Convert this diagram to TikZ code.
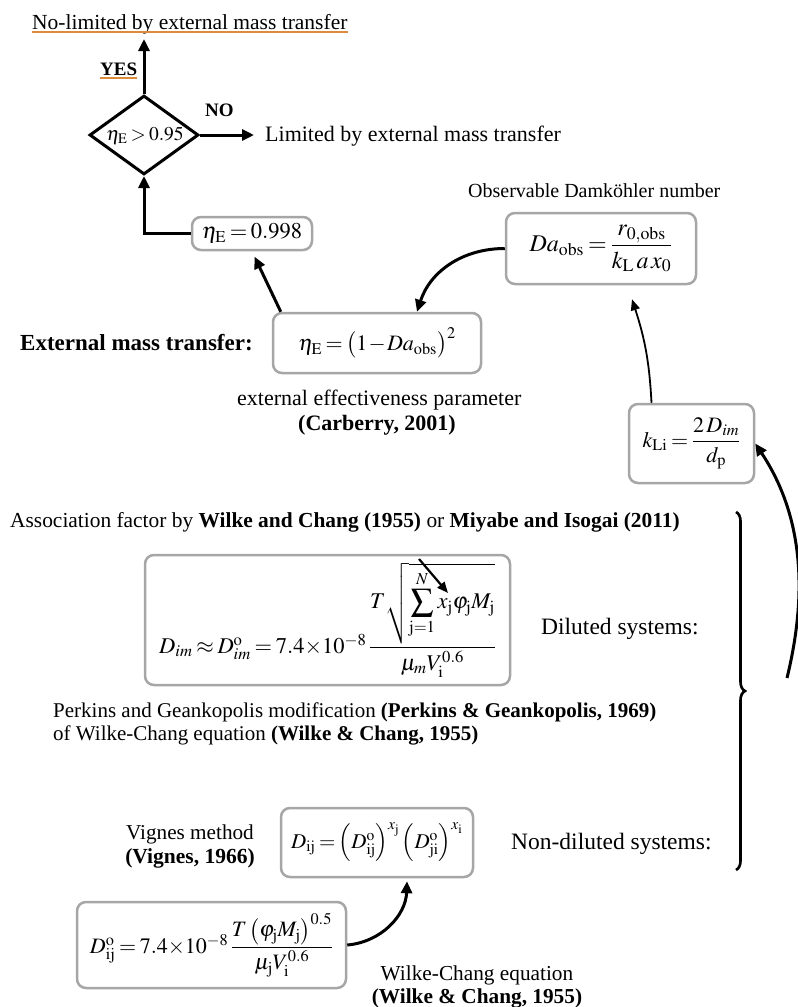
\documentclass[tikz,border=0pt]{standalone}
\usepackage{amsmath}
\usepackage{mathptmx}
\usepackage{fontspec}
\setmainfont{Liberation Serif}
\usetikzlibrary{arrows.meta,shapes.geometric,decorations.pathreplacing}
\definecolor{boxgray}{RGB}{166,166,166}
\definecolor{ulorange}{RGB}{222,138,60}
\newcommand\fsz[1]{\fontsize{#1}{#1}\selectfont}
\newcommand\eqsp{\thickmuskip=3mu plus 1mu\relax\medmuskip=2mu plus 1mu\relax\thinmuskip=2mu\relax}
\newcommand\eqspt{\thickmuskip=3mu plus 1mu\relax\medmuskip=1mu\relax\thinmuskip=2mu\relax}
\tikzset{
  txt/.style={inner sep=0pt, anchor=base west},
  ctxt/.style={inner sep=0pt, anchor=base},
  eqbox/.style={draw=boxgray, line width=2.5pt, rounded corners=9pt, inner sep=0pt},
  thickarrow/.style={line width=3pt, -{Triangle[length=12pt,width=11pt]}},
  thinarrow/.style={line width=1.8pt, -{Triangle[length=11pt,width=9pt]}},
  ul/.style={draw=ulorange, line width=1.6pt},
}
\begin{document}
\begin{tikzpicture}[x=1pt,y=1pt]
\useasboundingbox (0,0) rectangle (798,-1007);
% top decision
\node[txt, font=\fsz{21.5}] (title) at (32,-29) {No-limited by external mass transfer};
\draw[ul] (32,-32) -- (348,-32);
\node[txt, font=\fsz{19}\bfseries] (yes) at (100,-75) {YES};
\draw[ul] (100,-78) -- (137,-78);
\node[diamond, draw, line width=3pt, minimum width=109pt, minimum height=79pt, inner sep=0pt] (dia) at (144,-135) {};
\node[inner sep=0pt, font=\fsz{19.5}\eqspt] (dtext) at (145,-136) {$\eta_{\mathrm{E}} > 0.95$};
\node[txt, font=\fsz{19}\bfseries] (no) at (205,-116) {NO};
\node[txt, font=\fsz{22}] (lim) at (265,-141) {Limited by external mass transfer};
\coordinate (ytop) at (144,-39);
\coordinate (nend) at (254,-135);
\draw[thickarrow] (dia.north) -- (ytop);
\draw[thickarrow] (dia.east) -- (nend);
% eta box
\node[eqbox, font=\fsz{22.5}\eqsp, minimum width=120pt, minimum height=33pt] (b998) at (252,-233.5) {$\eta_{\mathrm{E}} = 0.998$};
\draw[thickarrow] (b998.west) -| (dia.south);
% Damkohler
\node[txt, font=\fsz{20}] (obs) at (468,-197) {Observable Damköhler number};
\node[eqbox, font=\fsz{24}\eqsp, minimum width=190pt, minimum height=71pt] (bDa) at (601,-248.5) {$Da_{\mathrm{obs}} = \dfrac{r_{0,\mathrm{obs}}}{k_{\mathrm{L}}\,a\,x_0}$};
% external mass transfer
\node[txt, font=\fsz{23}\bfseries] (ext) at (20,-350) {External mass transfer:};
\node[eqbox, font=\fsz{22}\eqspt, minimum width=208pt, minimum height=60pt] (bEta) at (377,-343) {$\eta_{\mathrm{E}} = \bigl(1 - Da_{\mathrm{obs}}\bigr)^{2}$};
\node[txt, font=\fsz{22}] (eff) at (237,-405) {external effectiveness parameter};
\node[txt, font=\fsz{22}\bfseries] (carb) at (298,-430) {(Carberry, 2001)};
\draw[thickarrow, shorten >=6pt] ([xshift=9pt]bEta.north west) -- (b998.south);
\draw[thickarrow] (bDa.west) to[out=180, in=72] ([xshift=40pt]bEta.north);
% kLi
\node[eqbox, font=\fsz{22}\eqsp, minimum width=125pt, minimum height=79pt] (bkLi) at (691.5,-443.5) {$k_{\mathrm{Li}} = \dfrac{2\,D_{im}}{d_{\mathrm{p}}}$};
\draw[thinarrow] ([xshift=-40pt]bkLi.north) to[out=93, in=-72] ([xshift=31pt,yshift=-14pt]bDa.south);
\coordinate (bigstart) at (787,-678);
\draw[thickarrow] (bigstart) .. controls (806,-600) and (806,-520) .. (bkLi.east);
% diluted
\node[txt, font=\fsz{21.4}] (assoc) at (10,-527) {Association factor by \textbf{Wilke and Chang (1955)} or \textbf{Miyabe and Isogai (2011)}};
\node[eqbox, font=\fsz{22.5}\eqsp, minimum width=365pt, minimum height=130pt] (bDim) at (327.5,-620) {$D_{im} \approx D^{\mathrm{o}}_{im} = 7.4{\times}10^{-8}\,\dfrac{T\sqrt{\displaystyle\sum_{\mathrm{j}=1}^{N} x_{\mathrm{j}}\varphi_{\mathrm{j}}M_{\mathrm{j}}}}{\mu_m V_{\mathrm{i}}^{0.6}}$};
\coordinate (assocA) at (419,-559);
\coordinate (assocB) at (448,-593);
\draw[line width=2.2pt, -{Triangle[length=11pt,width=9pt]}] (assocA) -- (assocB);
\node[txt, font=\fsz{23.5}] (dil) at (541,-634) {Diluted systems:};
\node[txt, font=\fsz{21}] (perk1) at (53,-717) {Perkins and Geankopolis modification \textbf{(Perkins \& Geankopolis, 1969)}};
\node[txt, font=\fsz{21}] (perk2) at (53,-740) {of Wilke-Chang equation \textbf{(Wilke \& Chang, 1955)}};
% non-diluted
\node[ctxt, font=\fsz{21.2}] (vig1) at (190,-839) {Vignes method};
\node[ctxt, font=\fsz{21.5}\bfseries] (vig2) at (190,-863) {(Vignes, 1966)};
\node[eqbox, font=\fsz{21}\eqsp, minimum width=192pt, minimum height=69pt] (bVig) at (377,-842.5) {$D_{\mathrm{ij}} = \left(D^{\mathrm{o}}_{\mathrm{ij}}\right)^{x_{\mathrm{j}}} \left(D^{\mathrm{o}}_{\mathrm{ji}}\right)^{x_{\mathrm{i}}}$};
\node[txt, font=\fsz{23.5}] (ndil) at (511,-849) {Non-diluted systems:};
\node[eqbox, font=\fsz{22}\eqsp, minimum width=269pt, minimum height=86pt] (bDij) at (211.5,-945) {$D^{\mathrm{o}}_{\mathrm{ij}} = 7.4{\times}10^{-8}\,\dfrac{T\left(\varphi_{\mathrm{j}}M_{\mathrm{j}}\right)^{0.5}}{\mu_{\mathrm{j}} V_{\mathrm{i}}^{0.6}}$};
\draw[thickarrow] (bDij.east) to[out=5, in=-92] ([xshift=30pt,yshift=-3pt]bVig.south);
\node[ctxt, font=\fsz{21.3}] (wc1) at (477,-980) {Wilke-Chang equation};
\node[ctxt, font=\fsz{21.3}\bfseries] (wc2) at (477,-1003) {(Wilke \& Chang, 1955)};
% brace
\coordinate (brtop) at (736,-512);
\coordinate (brbot) at (736,-870);
\draw[line width=2.6pt, decorate, decoration={brace, amplitude=9pt}] (brtop) -- (brbot);
\end{tikzpicture}
\end{document}
